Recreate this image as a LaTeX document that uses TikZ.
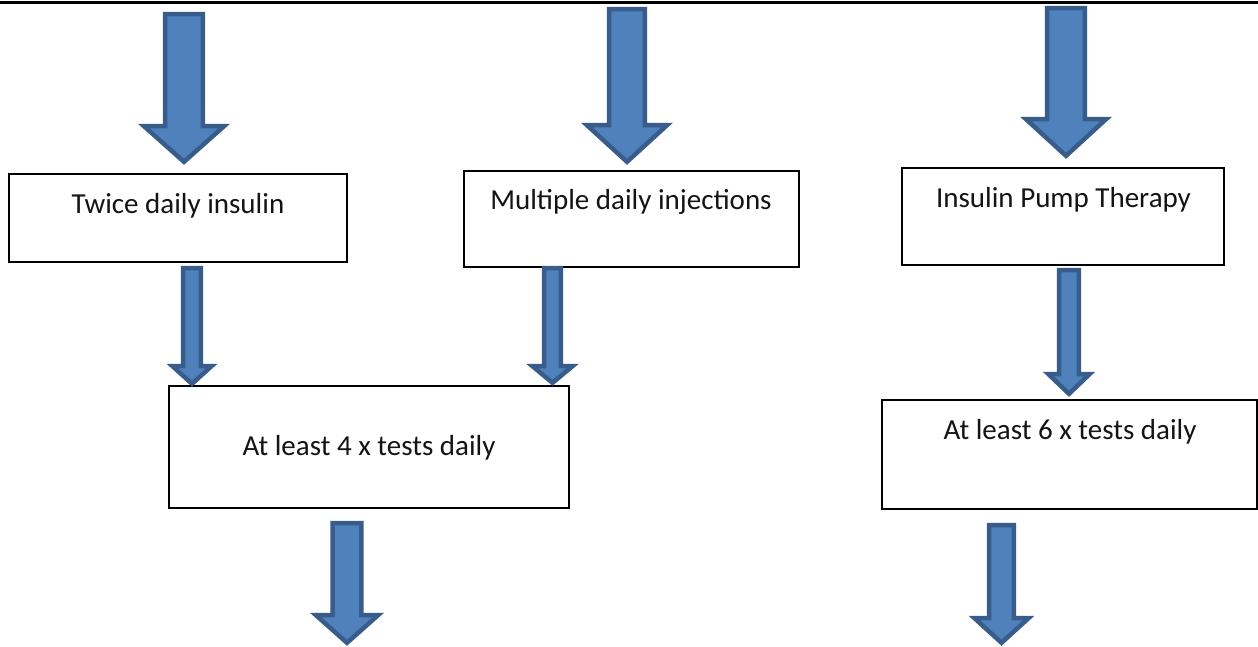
\documentclass[tikz,border=0pt]{standalone}
\usepackage{fontspec}
\setmainfont{Carlito}
\definecolor{arrfill}{HTML}{4F81BD}
\definecolor{arrline}{HTML}{385D8A}
\tikzset{
  box/.style={draw=black, line width=2pt, fill=white, rectangle, inner sep=0pt},
  lbl/.style={font=\fontsize{29}{34}\selectfont, anchor=base, inner sep=0pt, text=black!92},
  arr/.style={fill=arrfill, draw=arrline, line width=4.5pt, line join=miter},
}
% block arrow: #1 centre x, #2 top y, #3 head start y, #4 tip y, #5 shaft half width, #6 head half width (outer sizes)
\newcommand\blockarrow[6]{%
  \draw[arr] ({#1-#5+2.2},{#2+2.2}) -- ({#1+#5-2.2},{#2+2.2}) -- ({#1+#5-2.2},{#3+2.2})
    -- ({#1+#6-3},{#3+2.2}) -- ({#1},{#4-3.2}) -- ({#1-#6+3},{#3+2.2})
    -- ({#1-#5+2.2},{#3+2.2}) -- cycle;}
\begin{document}
\begin{tikzpicture}[x=1pt,y=-1pt]
\useasboundingbox (0,0) rectangle (1258,646);
\fill[white] (0,0) rectangle (1258,646);
% top rule
\coordinate (tl) at (0,2.5);
\coordinate (tr) at (1258,2.5);
\draw[line width=3pt] (tl) -- (tr);

% boxes
\node[box, minimum width=338pt, minimum height=88pt] (b1) at (178,218) {};
\node[lbl] (t1) at (178,213) {Twice daily insulin};
\node[box, minimum width=335pt, minimum height=96pt] (b2) at (631.5,219) {};
\node[lbl] (t2) at (631,209) {Multiple daily injections};
\node[box, minimum width=322pt, minimum height=97pt] (b3) at (1063,216.5) {};
\node[lbl] (t3) at (1063.5,207) {Insulin Pump Therapy};
\node[box, minimum width=400pt, minimum height=122pt] (b4) at (369,447) {};
\node[lbl] (t4) at (369,455) {At least 4 x tests daily};
\node[box, minimum width=375pt, minimum height=109pt] (b5) at (1069.5,454.5) {};
\node[lbl] (t5) at (1070,439) {At least 6 x tests daily};

% block arrows
\blockarrow{184}{12}{124}{165}{21}{43}
\blockarrow{627}{7}{123}{165}{20}{43}
\blockarrow{1066}{6}{117}{159}{21}{43}
\blockarrow{192}{266}{364}{387}{11}{22.5}
\blockarrow{552.5}{266}{364}{386}{10.5}{23}
\blockarrow{1069}{268}{372}{397}{12}{23.5}
\blockarrow{347}{521}{613}{646}{16.5}{34}
\blockarrow{1001.5}{523}{616}{646}{14.5}{30}
\end{tikzpicture}
\end{document}
